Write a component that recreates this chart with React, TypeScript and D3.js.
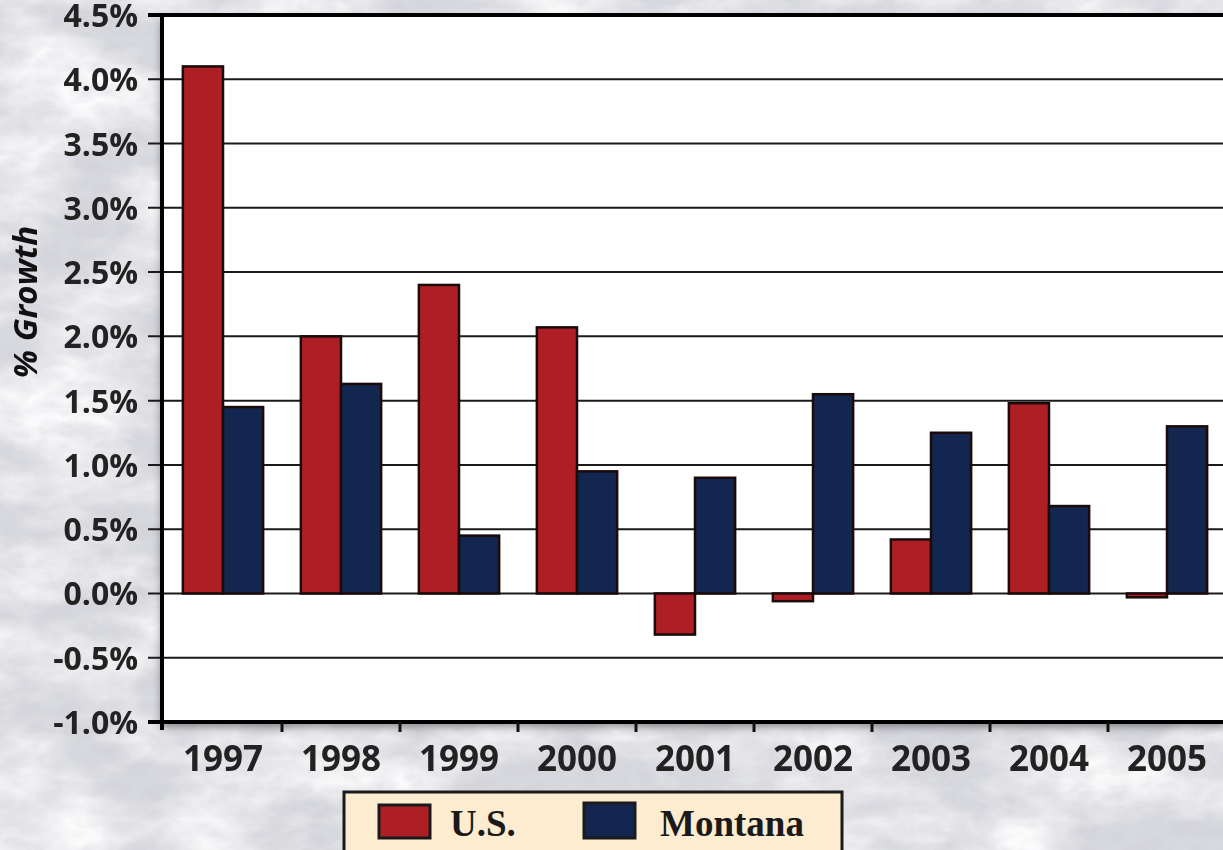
import React from "react";
import * as d3 from "d3";

const years = ["1997", "1998", "1999", "2000", "2001", "2002", "2003", "2004", "2005"];
const usValues = [4.1, 2.0, 2.4, 2.07, -0.32, -0.06, 0.42, 1.48, -0.03];
const montanaValues = [1.45, 1.63, 0.45, 0.95, 0.9, 1.55, 1.25, 0.68, 1.3];
const yTicks = [-1.0, -0.5, 0.0, 0.5, 1.0, 1.5, 2.0, 2.5, 3.0, 3.5, 4.0, 4.5];
const seriesNames = ["U.S.", "Montana"];
const seriesColors = ["#ad1f24", "#13264f"];

const W = 1223;
const H = 850;
const plotLeft = 164;
const plotRight = 1226;
const plotTop = 15;
const plotBottom = 722;

export default function App() {
  const x = d3.scaleBand<string>().domain(years).range([plotLeft, plotRight]).paddingInner(0).paddingOuter(0);
  const y = d3.scaleLinear().domain([-1.0, 4.5]).range([plotBottom, plotTop]);
  const inner = d3.scaleBand<string>().domain(seriesNames).range([0, x.bandwidth()]).paddingInner(0).paddingOuter(0.47);
  const font = "'Open Sans', sans-serif";
  const series = [usValues, montanaValues];
  const fmt = (t: number) => d3.format(".1f")(t).replace("\u2212", "-") + "%";

  return (
    <div style={{ position: "fixed", left: 0, top: 0, width: W, height: H, overflow: "hidden" }}>
      <svg width={W} height={H} style={{ display: "block" }}>
        <defs>
          <filter id="stone" x="0" y="0" width="100%" height="100%">
            <feTurbulence type="fractalNoise" baseFrequency="0.008 0.016" numOctaves="5" seed="3" result="n" />
            <feColorMatrix type="matrix" values="0 0 0 0 0.97  0 0 0 0 0.97  0 0 0 0 0.98  2.4 0 0 0 -0.9" in="n" result="c" />
            <feComposite in="c" in2="SourceGraphic" operator="over" />
          </filter>
          <filter id="grain" x="0" y="0" width="100%" height="100%">
            <feTurbulence type="turbulence" baseFrequency="0.03 0.05" numOctaves="3" seed="11" result="t" />
            <feColorMatrix type="matrix" values="0 0 0 0 0.55  0 0 0 0 0.55  0 0 0 0 0.6  1.4 0 0 0 -0.2" in="t" />
          </filter>
          <filter id="shadow" x="-5%" y="-5%" width="110%" height="115%">
            <feDropShadow dx="0" dy="5" stdDeviation="4" floodColor="#000" floodOpacity="0.4" />
          </filter>
        </defs>
        <rect x={0} y={0} width={W} height={H} fill="#d8d9de" filter="url(#stone)" />
        <rect x={0} y={0} width={W} height={H} fill="none" filter="url(#grain)" opacity={0.3} />

        {/* plot area */}
        <rect x={plotLeft - 3} y={plotTop} width={plotRight - plotLeft + 3} height={plotBottom - plotTop} fill="#ffffff" filter="url(#shadow)" />

        {/* gridlines */}
        {yTicks.map((t) => (
          <line key={"g" + t} x1={plotLeft - 16} x2={plotRight} y1={y(t)} y2={y(t)} stroke="#1a1a1a" strokeWidth={t === 4.5 ? 0 : 2} />
        ))}

        {/* bars */}
        {years.map((yr, i) => (
          <g key={yr}>
            {series.map((vals, s) => {
              const v = vals[i];
              const y0 = y(Math.max(0, v));
              const y1 = y(Math.min(0, v));
              return (
                <rect
                  key={s}
                  x={(x(yr) as number) + (inner(seriesNames[s]) as number)}
                  y={y0}
                  width={inner.bandwidth()}
                  height={Math.max(y1 - y0, 1)}
                  fill={seriesColors[s]}
                  stroke="#1a0a0a"
                  strokeWidth={2.5}
                />
              );
            })}
          </g>
        ))}

        {/* top border */}
        <line x1={plotLeft - 16} x2={plotRight} y1={plotTop} y2={plotTop} stroke="#000" strokeWidth={4} />
        {/* left axis */}
        <line x1={plotLeft - 2} x2={plotLeft - 2} y1={plotTop - 2} y2={plotBottom + 8} stroke="#000" strokeWidth={4} />
        {/* bottom axis */}
        <line x1={plotLeft - 16} x2={plotRight} y1={plotBottom} y2={plotBottom} stroke="#000" strokeWidth={4} />
        {/* x ticks */}
        {years.slice(1).map((yr) => (
          <line key={"xt" + yr} x1={x(yr) as number} x2={x(yr) as number} y1={plotBottom} y2={plotBottom + 10} stroke="#111" strokeWidth={3} />
        ))}

        {/* y labels */}
        {yTicks.map((t) => (
          <text key={"yl" + t} x={138} y={y(t) + 12} textAnchor="end" fontFamily={font} fontWeight={700} fontSize={32} fill="#222">
            {fmt(t)}
          </text>
        ))}

        {/* x labels */}
        {years.map((yr) => (
          <text key={"xl" + yr} x={(x(yr) as number) + x.bandwidth() / 2} y={771} textAnchor="middle" fontFamily={font} fontWeight={700} fontSize={35} fill="#222">
            {yr}
          </text>
        ))}

        {/* y title */}
        <text transform="translate(37,302) rotate(-90)" textAnchor="middle" fontFamily={font} fontWeight={700} fontStyle="italic" fontSize={33} fill="#111">
          % Growth
        </text>

        {/* legend */}
        <rect x={344} y={792} width={498} height={62} fill="#fdecd0" stroke="#1a1a1a" strokeWidth={3} />
        <rect x={379} y={805} width={51} height={33} fill={seriesColors[0]} stroke="#1a1a1a" strokeWidth={3} />
        <text x={450} y={836} fontFamily="'Liberation Serif', serif" fontWeight={700} fontSize={37} fill="#1a1a1a">
          {seriesNames[0]}
        </text>
        <rect x={584} y={803} width={51} height={35} fill={seriesColors[1]} stroke="#1a1a1a" strokeWidth={3} />
        <text x={660} y={836} fontFamily="'Liberation Serif', serif" fontWeight={700} fontSize={37} fill="#1a1a1a">
          {seriesNames[1]}
        </text>
      </svg>
    </div>
  );
}
